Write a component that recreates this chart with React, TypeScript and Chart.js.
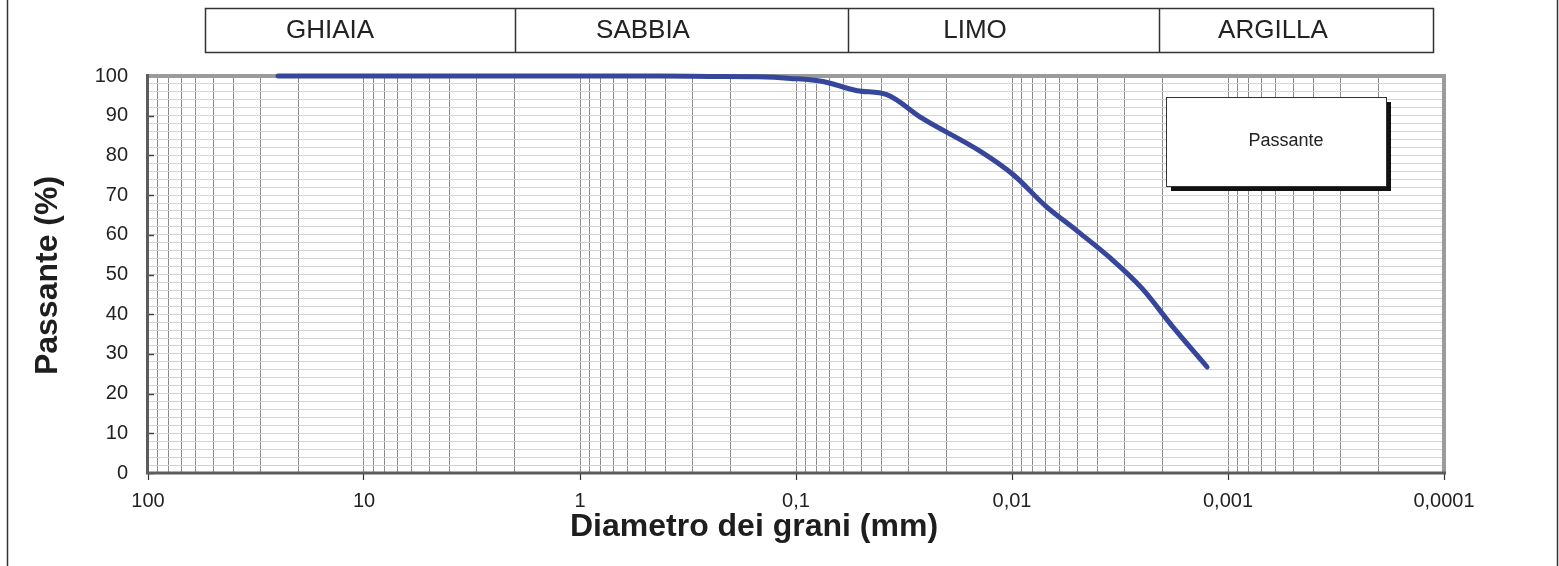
import React, { useEffect, useRef } from "react";
import { Chart, registerables } from "chart.js";

Chart.register(...registerables);

// ---- data ----
const seriesName = "Passante";
const diameters = [25, 19, 9.5, 4.75, 2, 0.85, 0.425, 0.25, 0.15, 0.106, 0.075, 0.052, 0.038, 0.026, 0.014, 0.0098, 0.007, 0.005, 0.0035, 0.0025, 0.0018, 0.00125];
const passing = [100, 100, 100, 100, 100, 100, 100, 99.9, 99.8, 99.4, 98.6, 96.3, 95.3, 89.3, 81.0, 75.0, 67.3, 61.0, 54.1, 46.5, 36.8, 26.7];

const xDecades = [100, 10, 1, 0.1, 0.01, 0.001, 0.0001];
const xTickLabels = ["100", "10", "1", "0,1", "0,01", "0,001", "0,0001"];
const yTickValues = [0, 10, 20, 30, 40, 50, 60, 70, 80, 90, 100];
const bandLabels = ["GHIAIA", "SABBIA", "LIMO", "ARGILLA"];
const xTitle = "Diametro dei grani (mm)";
const yTitle = "Passante (%)";

const FONT = '"Liberation Sans", Arial, sans-serif';

function minorXTicks(): number[] {
  const out: number[] = [];
  for (let e = -4; e <= 1; e++) {
    for (let m = 1; m <= 9; m++) {
      out.push(Number((m * Math.pow(10, e)).toPrecision(6)));
    }
  }
  out.push(100);
  return out;
}

function decadeIndex(v: number): number {
  return xDecades.findIndex((d) => Math.abs(d - v) / d < 1e-6);
}

const decoPlugin = {
  id: "deco",
  beforeDatasetsDraw(chart: any) {
    const { ctx, chartArea: a } = chart;
    const y = chart.scales.y;
    ctx.save();
    ctx.strokeStyle = "#444";
    ctx.lineWidth = 1.5;
    yTickValues.forEach((v) => {
      const py = Math.round(y.getPixelForValue(v)) + 0.5;
      ctx.beginPath();
      ctx.moveTo(a.left, py);
      ctx.lineTo(a.left + 6, py);
      ctx.stroke();
    });
    ctx.strokeStyle = "#9b9b9b";
    ctx.lineWidth = 4;
    ctx.beginPath();
    ctx.moveTo(a.left, a.top);
    ctx.lineTo(a.right, a.top);
    ctx.lineTo(a.right, a.bottom);
    ctx.stroke();
    ctx.strokeStyle = "#5c5c5c";
    ctx.lineWidth = 3;
    ctx.beginPath();
    ctx.moveTo(a.left - 0.5, a.top - 2);
    ctx.lineTo(a.left - 0.5, a.bottom);
    ctx.lineTo(a.right + 2, a.bottom);
    ctx.stroke();
    ctx.restore();
  },
  afterDraw(chart: any) {
    const { ctx, chartArea: a, width, height } = chart;
    ctx.save();
    ctx.strokeStyle = "#333";
    ctx.lineWidth = 1.5;
    ctx.beginPath();
    ctx.moveTo(7.5, 0);
    ctx.lineTo(7.5, height);
    ctx.moveTo(width - 1.5, 0);
    ctx.lineTo(width - 1.5, height);
    ctx.stroke();

    const edges = [205, 515, 848, 1159, 1433];
    const textCenters = [330, 643, 975, 1273];
    const top = 8, bottom = 52;
    ctx.strokeStyle = "#333";
    ctx.lineWidth = 1.5;
    ctx.fillStyle = "#fff";
    ctx.fillRect(edges[0], top, edges[4] - edges[0], bottom - top);
    ctx.strokeRect(edges[0] + 0.5, top + 0.5, edges[4] - edges[0], bottom - top);
    for (let i = 1; i < edges.length - 1; i++) {
      ctx.beginPath();
      ctx.moveTo(edges[i] + 0.5, top);
      ctx.lineTo(edges[i] + 0.5, bottom);
      ctx.stroke();
    }
    ctx.fillStyle = "#222";
    ctx.font = `26px ${FONT}`;
    ctx.textAlign = "center";
    ctx.textBaseline = "middle";
    bandLabels.forEach((t, i) => ctx.fillText(t, textCenters[i], (top + bottom) / 2 + 1));

    const lx = a.right - 278, ly = a.top + 21, lw = 220, lh = 89;
    ctx.fillStyle = "#111";
    ctx.fillRect(lx + 5, ly + 5, lw, lh);
    ctx.fillStyle = "#fff";
    ctx.fillRect(lx, ly, lw, lh);
    ctx.strokeStyle = "#333";
    ctx.lineWidth = 1;
    ctx.strokeRect(lx + 0.5, ly + 0.5, lw, lh);
    ctx.fillStyle = "#222";
    ctx.font = `18px ${FONT}`;
    ctx.textAlign = "center";
    ctx.textBaseline = "middle";
    ctx.fillText(seriesName, lx + lw / 2 + 10, ly + lh / 2);

    ctx.fillStyle = "#1e1e1e";
    ctx.font = `bold 32px ${FONT}`;
    ctx.textAlign = "center";
    ctx.textBaseline = "alphabetic";
    ctx.fillText(xTitle, 754, 536);
    ctx.save();
    ctx.translate(57, 275.5);
    ctx.rotate(-Math.PI / 2);
    ctx.fillText(yTitle, 0, 0);
    ctx.restore();

    ctx.restore();
  },
};

export default function App() {
  const ref = useRef<HTMLCanvasElement | null>(null);
  useEffect(() => {
    if (!ref.current) return;
    const xTicks = minorXTicks();
    const yGrid: number[] = [];
    for (let v = 0; v <= 100; v += 2) yGrid.push(v);
    const chart = new Chart(ref.current, {
      type: "line",
      data: {
        datasets: [
          {
            label: seriesName,
            data: diameters.map((d, i) => ({ x: d, y: passing[i] })),
            borderColor: "#36479b",
            backgroundColor: "#36479b",
            borderWidth: 5,
            borderCapStyle: "round",
            borderJoinStyle: "round",
            pointRadius: 0,
            pointHoverRadius: 0,
            cubicInterpolationMode: "monotone",
            fill: false,
            clip: false,
          } as any,
        ],
      },
      options: {
        animation: false,
        responsive: false,
        devicePixelRatio: 1,
        layout: { padding: { top: 76, right: 115, bottom: 0, left: 0 } },
        plugins: { legend: { display: false }, tooltip: { enabled: false }, title: { display: false } },
        events: [],
        scales: {
          x: {
            type: "logarithmic",
            min: 0.0001,
            max: 100,
            reverse: true,
            afterBuildTicks: (s: any) => {
              s.ticks = xTicks.map((v) => ({ value: v }));
            },
            afterFit: (s: any) => {
              s.height = 93;
            },
            border: { display: false },
            grid: {
              color: "#8c8c8c",
              lineWidth: 1,
              drawTicks: true,
              tickLength: 7,
              tickColor: (c: any) => (c.tick && decadeIndex(c.tick.value) >= 0 ? "#333" : "rgba(0,0,0,0)"),
              tickWidth: 1.2,
            },
            ticks: {
              autoSkip: false,
              maxRotation: 0,
              minRotation: 0,
              padding: 9,
              color: "#222",
              font: { family: FONT, size: 20 },
              callback: (v: any) => {
                const i = decadeIndex(Number(v));
                return i >= 0 ? xTickLabels[i] : "";
              },
            },
          },
          y: {
            type: "linear",
            min: 0,
            max: 100,
            afterBuildTicks: (s: any) => {
              s.ticks = yGrid.map((v) => ({ value: v }));
            },
            afterFit: (s: any) => {
              s.width = 148;
            },
            border: { display: false },
            grid: { color: "#d3d3d3", lineWidth: 1, drawTicks: false },
            ticks: {
              autoSkip: false,
              padding: 20,
              color: "#222",
              font: { family: FONT, size: 20 },
              callback: (v: any) => (yTickValues.includes(Number(v)) ? String(v) : ""),
            },
          },
        },
      } as any,
      plugins: [decoPlugin],
    });
    return () => chart.destroy();
  }, []);
  return (
    <div style={{ position: "absolute", left: 0, top: 0, width: 1559, height: 566, background: "#fff" }}>
      <canvas ref={ref} width={1559} height={566} style={{ display: "block" }} />
    </div>
  );
}
